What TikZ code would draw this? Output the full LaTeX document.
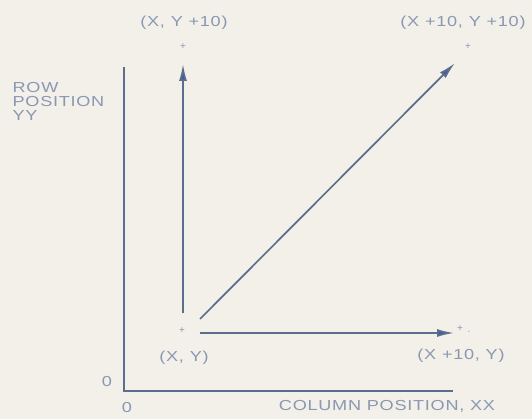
\documentclass[tikz,border=0pt]{standalone}
\usepackage{fontspec}
\setmainfont{Liberation Sans}
\newfontfamily\widefont[FakeStretch=1.25, LetterSpace=5]{Liberation Sans}
\usetikzlibrary{arrows.meta, positioning}
\definecolor{paper}{HTML}{F2F0E9}
\definecolor{cline}{HTML}{5C6E8C}
\definecolor{ctext}{HTML}{8A98B2}
\definecolor{ctip}{HTML}{3F5DA8}
\tikzset{
  every picture/.style={line width=1.3pt},
  axis/.style={draw=cline, line width=2.2pt},
  arrow/.style={-{Latex[length=17pt, width=8pt, fill=ctip]}, draw=cline, line width=1.7pt},
  lbl/.style={font=\widefont\fontsize{14.5}{14}\selectfont, text=ctext, inner sep=1pt},
  tick/.style={font=\fontsize{10}{10}\selectfont, text=ctext, inner sep=0pt},
}
\begin{document}
\begin{tikzpicture}[x=1pt, y=-1pt]
  \fill[paper] (0,0) rectangle (532,419);
  \useasboundingbox (0,0) rectangle (532,419);
  % axes
  \coordinate (origin) at (124,391);
  \coordinate (ytop) at (124,67);
  \coordinate (xend) at (453,391);
  \draw[axis] (ytop) -- (origin) -- (xend);
  \node[lbl] (zeroy) at (107,382) {0};
  \node[lbl] (zerox) at (127,408) {0};
  \node[lbl] (xlabel) at (387,406) {COLUMN POSITION, XX};
  \node[lbl, align=left, anchor=north west] (ylabel) at (11,81) {ROW\\POSITION\\YY};
  % points
  \node[tick] (p00) at (182,331) {+};
  \node[tick] (p01) at (183,47) {+};
  \node[tick] (p11) at (468,47) {+};
  \node[tick] (p10) at (460,329) {+};
  \node[tick] (dot) at (469,332) {.};
  \node[lbl] (l00) at (184,358) {(X, Y)};
  \node[lbl] (l01) at (184,23) {(X, Y +10)};
  \node[lbl] (l11) at (463,23) {(X +10, Y +10)};
  \node[lbl] (l10) at (461,356) {(X +10, Y)};
  % arrows
  \coordinate (sv) at (183,313);
  \coordinate (sd) at (200,319);
  \coordinate (sh) at (200,333);
  \coordinate (ev) at (183,64);
  \coordinate (ed) at (455,63);
  \coordinate (eh) at (454,333);
  \draw[arrow] (sv) -- (ev);
  \draw[arrow] (sd) -- (ed);
  \draw[arrow] (sh) -- (eh);
\end{tikzpicture}
\end{document}
